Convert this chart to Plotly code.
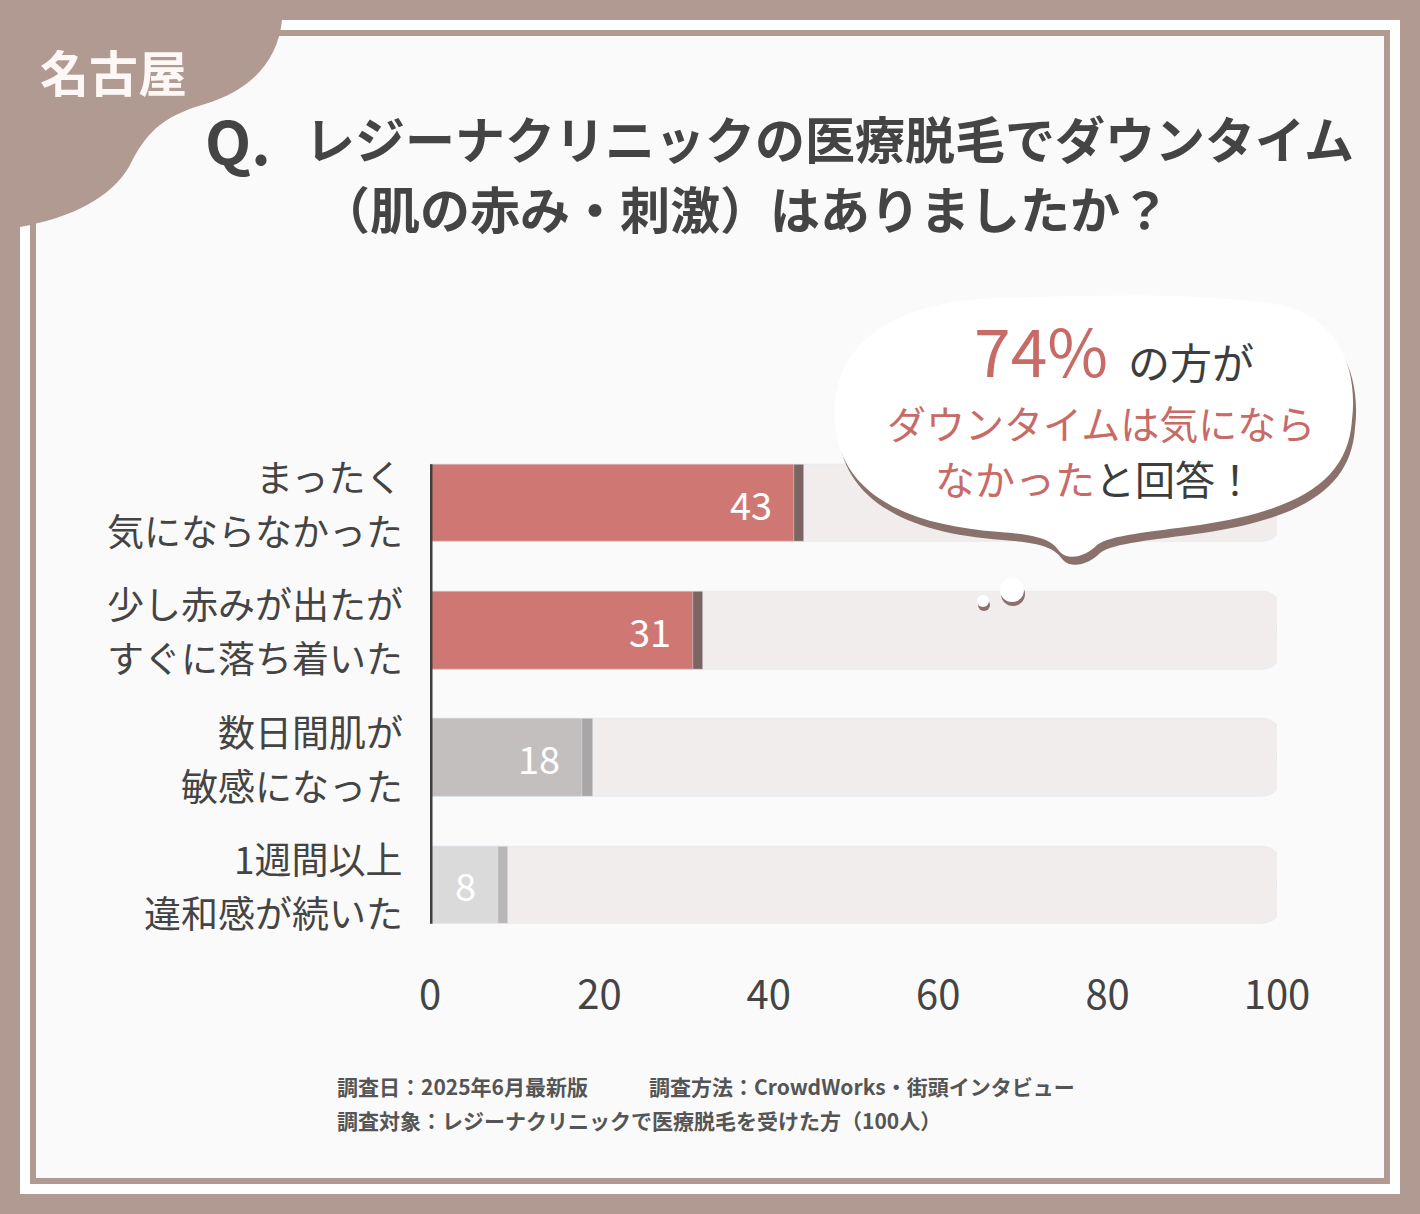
import plotly.graph_objects as go

# ---------------- data ----------------
categories = [
    ["まったく", "気にならなかった"],
    ["少し赤みが出たが", "すぐに落ち着いた"],
    ["数日間肌が", "敏感になった"],
    ["1週間以上", "違和感が続いた"],
]
values = [43, 31, 18, 8]
scale_max = 100
x_ticks = [0, 20, 40, 60, 80, 100]

title_q = "Q."
title_line1 = "レジーナクリニックの医療脱毛でダウンタイム"
title_line2 = "（肌の赤み・刺激）はありましたか？"
region = "名古屋"
callout_pct = "74%"
callout_a = "の方が"
callout_b = "ダウンタイムは気になら"
callout_c_red = "なかった"
callout_c = "と回答！"
footer_1a = "調査日：2025年6月最新版"
footer_1b = "調査方法：CrowdWorks・街頭インタビュー"
footer_2 = "調査対象：レジーナクリニックで医療脱毛を受けた方（100人）"

# ---------------- styles ----------------
W, H = 1420, 1214
FONT = "Noto Sans CJK JP"
BROWN = "#b09a92"
DARK = "#444444"
RED = "#cf7873"
bar_colors = [RED, RED, "#c2bfbe", "#dbdada"]
shadow_colors = ["#7b6461", "#7b6461", "#a8a6a6", "#b8b6b6"]
TRACK = "#f1edec"
TRACK_SHADOW = "#e2dedd"
BAR_W = 0.61
SHADOW_EXTRA = 1.2
RADIUS = 20


def px(x):
    return x / W


def py(y):
    return 1 - y / H


def path(points_cmds, dx=0, dy=0):
    out = []
    for cmd, pts in points_cmds:
        coords = " ".join(f"{px(x + dx):.5f},{py(y + dy):.5f}" for x, y in pts)
        out.append(f"{cmd} {coords}")
    return " ".join(out) + " Z"


ys = list(range(len(values)))

fig = go.Figure()
# track shadow + track
fig.add_trace(go.Bar(x=[scale_max + 0.6] * len(values), y=ys, orientation="h",
                     width=BAR_W, marker=dict(color=TRACK_SHADOW, cornerradius=RADIUS),
                     hoverinfo="skip", showlegend=False))
fig.add_trace(go.Bar(x=[scale_max] * len(values), y=ys, orientation="h",
                     width=BAR_W, marker=dict(color=TRACK, cornerradius=RADIUS),
                     hoverinfo="skip", showlegend=False))
# value shadows
fig.add_trace(go.Bar(x=[v + SHADOW_EXTRA for v in values], y=ys, orientation="h",
                     width=BAR_W, marker=dict(color=shadow_colors, cornerradius=RADIUS),
                     hoverinfo="skip", showlegend=False))
# value bars
fig.add_trace(go.Bar(x=values, y=ys, orientation="h", width=BAR_W,
                     marker=dict(color=bar_colors, cornerradius=RADIUS),
                     showlegend=False))

shapes = []
# frame
shapes.append(dict(type="rect", xref="paper", yref="paper", layer="below",
                   x0=px(20), x1=px(1400), y0=py(1194), y1=py(20),
                   fillcolor="#ffffff", line=dict(width=0)))
shapes.append(dict(type="rect", xref="paper", yref="paper", layer="below",
                   x0=px(33), x1=px(1387), y0=py(1181), y1=py(33),
                   fillcolor="#fafafa", line=dict(color=BROWN, width=6)))
# corner blob
blob = [("M", [(0, 0)]), ("L", [(285, 0)]), ("L", [(282, 20)]),
        ("C", [(278, 60), (252, 90), (205, 104)]),
        ("C", [(160, 117), (145, 135), (130, 165)]),
        ("C", [(112, 198), (70, 218), (20, 227)]),
        ("L", [(0, 227)])]
shapes.append(dict(type="path", xref="paper", yref="paper", layer="below",
                   path=path(blob), fillcolor=BROWN, line=dict(width=0)))
# axis line
shapes.append(dict(type="line", xref="x", yref="y", x0=0, x1=0,
                   y0=-BAR_W / 2, y1=len(values) - 1 + BAR_W / 2,
                   line=dict(color="#3f3f3f", width=5)))
# speech bubble
bubble = [("M", [(835, 420)]),
          ("C", [(830, 340), (900, 300), (1000, 298)]),
          ("C", [(1100, 295), (1200, 292), (1280, 305)]),
          ("C", [(1340, 318), (1358, 370), (1352, 420)]),
          ("C", [(1348, 480), (1300, 510), (1200, 525)]),
          ("C", [(1150, 532), (1110, 535), (1097, 545)]),
          ("C", [(1087, 555), (1070, 562), (1060, 552)]),
          ("C", [(1052, 540), (1040, 535), (1000, 532)]),
          ("C", [(900, 525), (838, 490), (835, 420)])]
shapes.append(dict(type="path", xref="paper", yref="paper",
                   path=path(bubble, 3, 8), fillcolor="#8a716c", line=dict(width=0)))
shapes.append(dict(type="path", xref="paper", yref="paper",
                   path=path(bubble), fillcolor="#ffffff", line=dict(width=0)))
for cx, cy, r in [(983, 601, 6), (1012, 590, 12)]:
    shapes.append(dict(type="circle", xref="paper", yref="paper",
                       x0=px(cx - r + 1), x1=px(cx + r + 1), y0=py(cy + r + 4), y1=py(cy - r + 4),
                       fillcolor="#8a716c", line=dict(width=0)))
    shapes.append(dict(type="circle", xref="paper", yref="paper",
                       x0=px(cx - r), x1=px(cx + r), y0=py(cy + r), y1=py(cy - r),
                       fillcolor="#ffffff", line=dict(width=0)))

ann = []


def text(x, y, s, size, color=DARK, anchor="center", weight="normal"):
    ann.append(dict(x=px(x), y=py(y), xref="paper", yref="paper", text=s,
                    showarrow=False, xanchor=anchor, yanchor="middle",
                    font=dict(family=FONT, size=size, color=color, weight=weight)))


text(38, 70, region, 49, "#fdf8f5", "left", "bold")
text(238, 138, title_q, 60, DARK, "center", "bold")
text(303, 137, title_line1, 50, DARK, "left", "bold")
text(745, 207, title_line2, 50, DARK, "center", "bold")

text(1041, 348, callout_pct, 66, "#c86b67", "center")
text(1126, 360, callout_a, 42, "#3d3d3d", "left")
text(1101, 422, callout_b, 39, "#c86b67", "center")
text(1095, 478, f'<span style="color:#c86b67">{callout_c_red}</span>{callout_c}',
     40, "#3d3d3d", "center")

text(335, 1086, footer_1a, 21, "#555555", "left", "bold")
text(647, 1086, footer_1b, 21, "#555555", "left", "bold")
text(335, 1120, footer_2, 21, "#555555", "left", "bold")

# category labels (one annotation per line)
for i, lines in enumerate(categories):
    for j, line in enumerate(lines):
        ann.append(dict(x=0, y=i, xref="x", yref="y", text=line, showarrow=False,
                        xanchor="right", yanchor="middle", xshift=-25,
                        yshift=27 if j == 0 else -27,
                        font=dict(family=FONT, size=37, color=DARK)))
# value labels
for i, v in enumerate(values):
    ann.append(dict(x=v, y=i, xref="x", yref="y", text=str(v), showarrow=False,
                    xanchor="right", yanchor="middle", xshift=-20,
                    font=dict(family=FONT, size=38, color="#ffffff")))

fig.update_layout(
    width=W, height=H, margin=dict(l=0, r=0, t=0, b=0),
    paper_bgcolor=BROWN, plot_bgcolor="rgba(0,0,0,0)",
    barmode="overlay", bargap=0, barcornerradius=RADIUS, showlegend=False,
    shapes=shapes, annotations=ann,
    xaxis=dict(domain=[px(430), px(1277)], range=[0, scale_max], tickvals=x_ticks,
               showgrid=False, zeroline=False, showline=False, ticks="",
               automargin=False, ticklabelstandoff=19, fixedrange=True,
               tickfont=dict(family=FONT, size=40, color=DARK)),
    yaxis=dict(domain=[py(948.5), py(439.5)], range=[len(values) - 0.5, -0.5],
               showgrid=False, zeroline=False, showline=False, ticks="",
               showticklabels=False, automargin=False, fixedrange=True),
)

fig.write_html("out.html", config={"displayModeBar": False},
               post_script="document.body.style.margin='0';document.body.style.overflow='hidden';")
